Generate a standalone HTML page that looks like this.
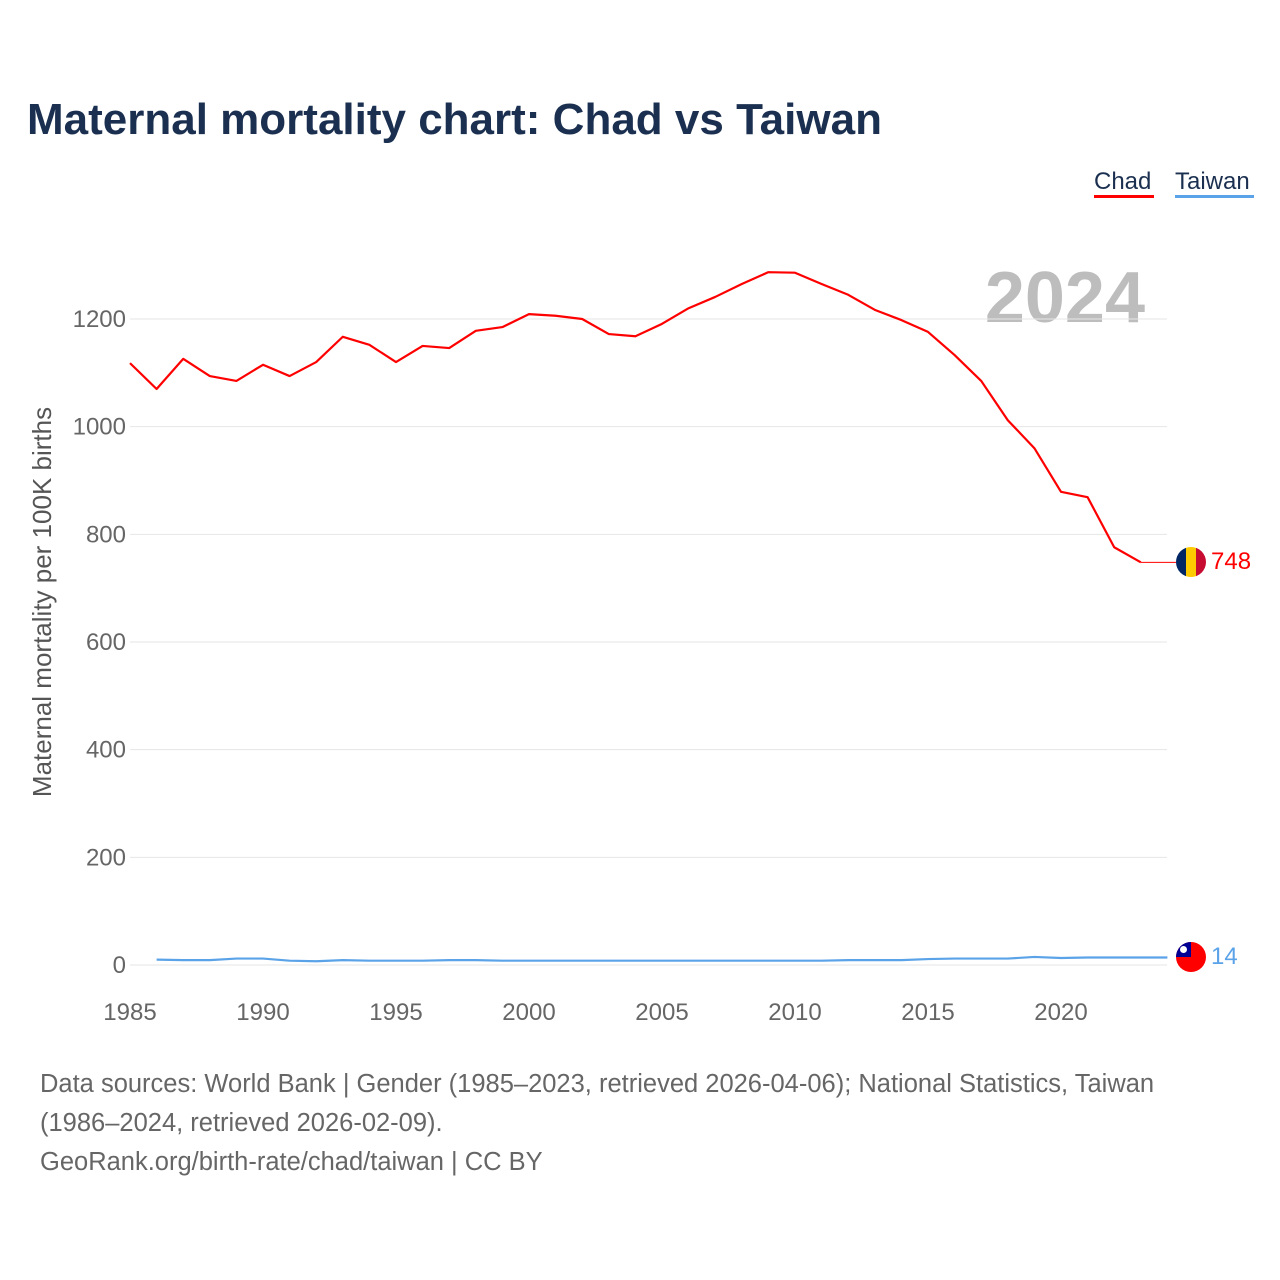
<!DOCTYPE html>
<html><head><meta charset="utf-8"><style>
body{margin:0;background:#fff;font-family:"Liberation Sans",sans-serif;}
#wrap{position:relative;width:1280px;height:1280px;overflow:hidden}
</style></head><body>
<div id="wrap">
<svg id="svg" width="1280" height="1280" xmlns="http://www.w3.org/2000/svg">
<text x="27" y="134" font-size="44" font-weight="bold" fill="#1b3050">Maternal mortality chart: Chad vs Taiwan</text>
<g><text x="1094" y="189" font-size="24" fill="#1b3050">Chad</text><rect x="1094" y="195" width="60" height="3" fill="#ff0000"/></g>
<g><text x="1175" y="189" font-size="24" fill="#1b3050">Taiwan</text><rect x="1175" y="195" width="79" height="3" fill="#5ba3e8"/></g>
<text x="1145" y="322" font-size="72" font-weight="bold" fill="#bdbdbd" text-anchor="end">2024</text>
<g id="grid"></g><g id="xt"></g>
<text transform="translate(51,602) rotate(-90)" font-size="26" fill="#555" text-anchor="middle">Maternal mortality per 100K births</text>
<g id="series"></g>
<g><clipPath id="c1"><circle cx="1191" cy="562" r="15"/></clipPath><g clip-path="url(#c1)"><rect x="1176" y="547" width="10" height="30" fill="#002664"/><rect x="1186" y="547" width="10" height="30" fill="#fecb00"/><rect x="1196" y="547" width="10" height="30" fill="#c60c30"/></g></g>
<g><clipPath id="c2"><circle cx="1191" cy="957" r="15"/></clipPath><g clip-path="url(#c2)"><rect x="1176" y="942" width="30" height="30" fill="#fe0000"/><rect x="1176" y="942" width="15" height="15" fill="#000095"/><circle cx="1183.5" cy="949.5" r="3.5" fill="#fff"/></g></g>
<text x="1211" y="569" font-size="24" fill="#ff0000">748</text>
<text x="1211" y="964" font-size="24" fill="#5ba3e8">14</text>
<text font-size="25.5" fill="#666"><tspan x="40" y="1092">Data sources: World Bank | Gender (1985–2023, retrieved 2026-04-06); National Statistics, Taiwan</tspan><tspan x="40" y="1131">(1986–2024, retrieved 2026-02-09).</tspan><tspan x="40" y="1170">GeoRank.org/birth-rate/chad/taiwan | CC BY</tspan></text>
</svg></div>
<script>
const yTicks=[0,200,400,600,800,1000,1200];
const xTicks=[1985,1990,1995,2000,2005,2010,2015,2020];
const chadYears=[1985,1986,1987,1988,1989,1990,1991,1992,1993,1994,1995,1996,1997,1998,1999,2000,2001,2002,2003,2004,2005,2006,2007,2008,2009,2010,2011,2012,2013,2014,2015,2016,2017,2018,2019,2020,2021,2022,2023];
const chadValues=[1118,1070,1126,1094,1085,1115,1094,1120,1167,1152,1120,1150,1146,1178,1185,1209,1206,1200,1172,1168,1191,1220,1241,1265,1287,1286,1265,1245,1217,1198,1176,1133,1085,1012,960,879,869,776,748];
const taiwanYears=[1986,1987,1988,1989,1990,1991,1992,1993,1994,1995,1996,1997,1998,1999,2000,2001,2002,2003,2004,2005,2006,2007,2008,2009,2010,2011,2012,2013,2014,2015,2016,2017,2018,2019,2020,2021,2022,2023,2024];
const taiwanValues=[10,9,9,12,12,8,7,9,8,8,8,9,9,8,8,8,8,8,8,8,8,8,8,8,8,8,9,9,9,11,12,12,12,15,13,14,14,14,14];
const X=y=>130+(y-1985)*(1061-130)/35;
const Y=v=>965-v*(965-319)/1200;
const NS='http://www.w3.org/2000/svg';
const mk=(t,a,p)=>{const e=document.createElementNS(NS,t);for(const k in a)e.setAttribute(k,a[k]);p.appendChild(e);return e;};
const grid=document.getElementById('grid'),xt=document.getElementById('xt'),ser=document.getElementById('series');
yTicks.forEach(v=>{
 const l=mk('line',{x1:130,x2:1167,y1:Y(v),y2:Y(v),stroke:'#e6e6e6','stroke-width':1},grid);
 
 
 const t=mk('text',{x:126,y:Y(v)+8,'font-size':24,fill:'#666','text-anchor':'end'},grid);t.textContent=v;
 
 
});
xTicks.forEach(v=>{
 const t=mk('text',{x:X(v),y:1020,'font-size':24,fill:'#666','text-anchor':'middle'},xt);t.textContent=v;
 
 
});
function line(xs,vs,c,name){
 const p=mk('polyline',{points:xs.map((x,i)=>X(x)+','+Y(vs[i])).join(' '),fill:'none',stroke:c,'stroke-width':2.2,'stroke-linejoin':'round'},ser);
 
 
}
line(chadYears,chadValues,'#ff0000','chad-line');
const ext=mk('line',{x1:X(2023),x2:1176,y1:Y(chadValues[chadValues.length-1]),y2:Y(chadValues[chadValues.length-1]),stroke:'#ff0000','stroke-width':1},ser);


line(taiwanYears,taiwanValues,'#5ba3e8','taiwan-line');
</script>
</body></html>
